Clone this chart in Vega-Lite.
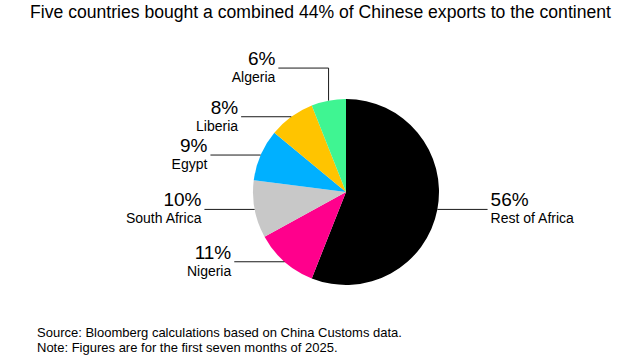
{
  "$schema": "https://vega.github.io/schema/vega-lite/v6.json",
  "autosize": {"type": "pad"},
  "padding": {"top": 4, "bottom": 0, "left": 0, "right": 0},
  "background": "white",
  "config": {"view": {"stroke": null}, "font": "Liberation Sans"},
  "title": {
    "text": "Five countries bought a combined 44% of Chinese exports to the continent",
    "anchor": "start", "frame": "group", "dx": 30, "offset": 6,
    "fontSize": 17.6, "font": "Liberation Sans", "fontWeight": "normal",
    "color": "#000000"
  },
  "data": {"values": [
    {"country": "Rest of Africa", "share": 56},
    {"country": "Nigeria", "share": 11},
    {"country": "South Africa", "share": 10},
    {"country": "Egypt", "share": 9},
    {"country": "Liberia", "share": 8},
    {"country": "Algeria", "share": 6}
  ]},
  "vconcat": [
    {
      "width": 642,
      "height": 281,
      "title": {
        "text": ["Source: Bloomberg calculations based on China Customs data.", "Note: Figures are for the first seven months of 2025."],
        "orient": "bottom", "anchor": "start", "frame": "group", "dx": 37, "offset": 18,
        "baseline": "top", "fontSize": 13, "fontWeight": "normal", "font": "Liberation Sans",
        "color": "#000000", "lineHeight": 15
      },
      "transform": [
        {"joinaggregate": [{"op": "sum", "field": "share", "as": "total"}]},
        {"window": [{"op": "sum", "field": "share", "as": "cum"}], "sort": [{"field": "share", "order": "descending"}], "frame": [null, 0]},
        {"calculate": "2*PI*(datum.cum - datum.share/2)/datum.total", "as": "a"},
        {"calculate": "sin(datum.a)", "as": "ex"},
        {"calculate": "cos(datum.a)", "as": "ey"},
        {"calculate": "datum.ex >= 0 ? 1 : -1", "as": "side"},
        {"calculate": "abs(datum.ex) < 0.3", "as": "elbow"},
        {"calculate": "datum.elbow ? datum.ey + 0.35 : datum.ey", "as": "ly"},
        {"calculate": "datum.ex + datum.side*0.54", "as": "lx"},
        {"calculate": "datum.share + '%'", "as": "pct"}
      ],
      "layer": [
        {
          "mark": {"type": "arc", "outerRadius": 93, "strokeWidth": 0},
          "encoding": {
            "theta": {"field": "share", "type": "quantitative", "stack": true},
            "order": {"field": "share", "type": "quantitative", "sort": "descending"},
            "color": {"field": "country", "type": "nominal", "legend": null,
              "scale": {"domain": ["Rest of Africa", "Nigeria", "South Africa", "Egypt", "Liberia", "Algeria"],
                        "range": ["#000000", "#ff008c", "#c8c8c8", "#00b0ff", "#ffc400", "#3ff592"]}},
            "x": {"datum": 0, "type": "quantitative", "axis": null, "scale": {"domain": [-3.7204, 3.1828], "nice": false, "zero": false}},
            "y": {"datum": 0, "type": "quantitative", "axis": null, "scale": {"domain": [-1.258, 1.763], "nice": false, "zero": false}}
          }
        },
        {
          "mark": {"type": "rule", "color": "#1a1a1a", "strokeWidth": 1},
          "encoding": {
            "x": {"field": "ex", "type": "quantitative", "axis": null, "scale": {"domain": [-3.7204, 3.1828], "nice": false, "zero": false}},
            "x2": {"field": "lx"},
            "y": {"field": "ly", "type": "quantitative", "axis": null, "scale": {"domain": [-1.258, 1.763], "nice": false, "zero": false}}
          }
        },
        {
          "transform": [{"filter": "datum.elbow"}],
          "mark": {"type": "rule", "color": "#1a1a1a", "strokeWidth": 1},
          "encoding": {
            "x": {"field": "ex", "type": "quantitative", "axis": null, "scale": {"domain": [-3.7204, 3.1828], "nice": false, "zero": false}},
            "y": {"field": "ey", "type": "quantitative", "axis": null, "scale": {"domain": [-1.258, 1.763], "nice": false, "zero": false}},
            "y2": {"field": "ly"}
          }
        },
        {
          "transform": [{"filter": "datum.side < 0"}],
          "mark": {"type": "text", "align": "right", "baseline": "alphabetic", "dx": -3, "dy": -3, "fontSize": 19, "color": "#000000"},
          "encoding": {
            "x": {"field": "lx", "type": "quantitative", "axis": null, "scale": {"domain": [-3.7204, 3.1828], "nice": false, "zero": false}},
            "y": {"field": "ly", "type": "quantitative", "axis": null, "scale": {"domain": [-1.258, 1.763], "nice": false, "zero": false}},
            "text": {"field": "pct", "type": "nominal"}
          }
        },
        {
          "transform": [{"filter": "datum.side < 0"}],
          "mark": {"type": "text", "align": "right", "baseline": "alphabetic", "dx": -3, "dy": 14, "fontSize": 14, "color": "#000000"},
          "encoding": {
            "x": {"field": "lx", "type": "quantitative", "axis": null, "scale": {"domain": [-3.7204, 3.1828], "nice": false, "zero": false}},
            "y": {"field": "ly", "type": "quantitative", "axis": null, "scale": {"domain": [-1.258, 1.763], "nice": false, "zero": false}},
            "text": {"field": "country", "type": "nominal"}
          }
        },
        {
          "transform": [{"filter": "datum.side > 0"}],
          "mark": {"type": "text", "align": "left", "baseline": "alphabetic", "dx": 3, "dy": -3, "fontSize": 19, "color": "#000000"},
          "encoding": {
            "x": {"field": "lx", "type": "quantitative", "axis": null, "scale": {"domain": [-3.7204, 3.1828], "nice": false, "zero": false}},
            "y": {"field": "ly", "type": "quantitative", "axis": null, "scale": {"domain": [-1.258, 1.763], "nice": false, "zero": false}},
            "text": {"field": "pct", "type": "nominal"}
          }
        },
        {
          "transform": [{"filter": "datum.side > 0"}],
          "mark": {"type": "text", "align": "left", "baseline": "alphabetic", "dx": 3, "dy": 14, "fontSize": 14, "color": "#000000"},
          "encoding": {
            "x": {"field": "lx", "type": "quantitative", "axis": null, "scale": {"domain": [-3.7204, 3.1828], "nice": false, "zero": false}},
            "y": {"field": "ly", "type": "quantitative", "axis": null, "scale": {"domain": [-1.258, 1.763], "nice": false, "zero": false}},
            "text": {"field": "country", "type": "nominal"}
          }
        }
      ]
    }
  ]
}
